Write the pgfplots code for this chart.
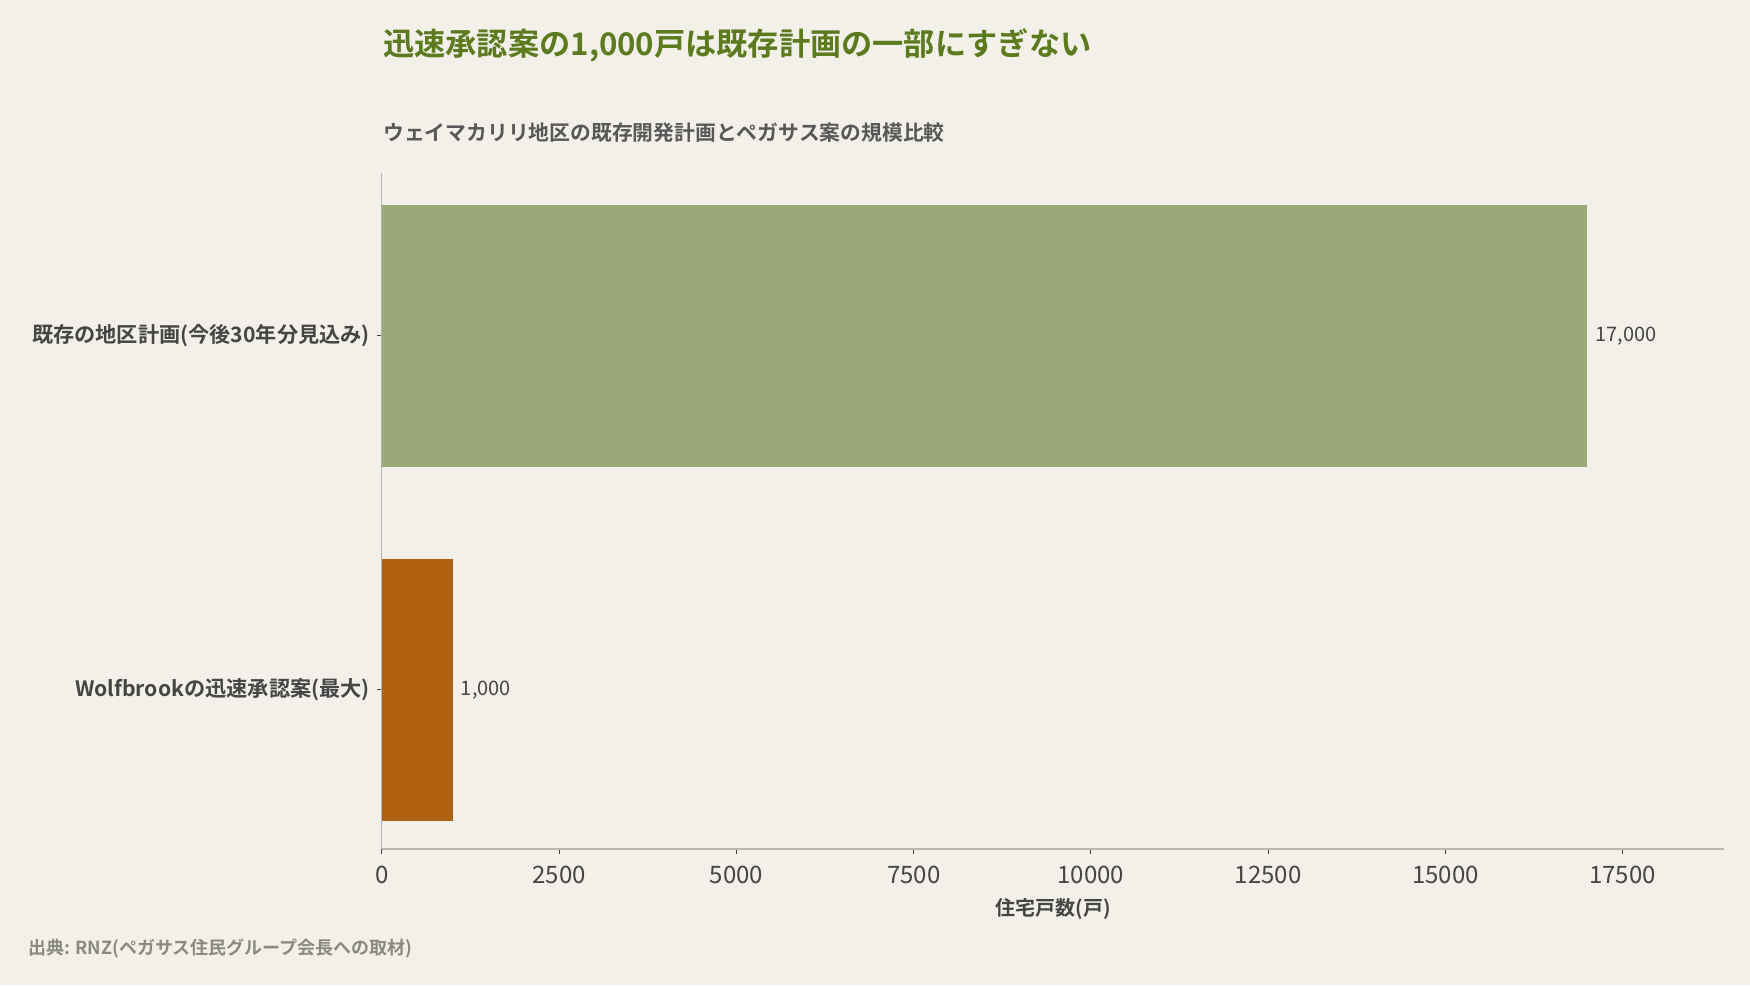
\documentclass[border=0pt]{standalone}
\usepackage{fontspec}
\setmainfont{Noto Sans CJK JP}[BoldFont={Noto Sans CJK JP Bold}]
\usepackage{pgfplots}
\pgfplotsset{compat=1.18}

\definecolor{bgc}{HTML}{F2F0E9}
\definecolor{titlec}{HTML}{5B7B1E}
\definecolor{greenbar}{HTML}{9BA877}
\definecolor{orangebar}{HTML}{B0610F}
\definecolor{textc}{HTML}{454545}
\definecolor{srcc}{HTML}{8A8A82}
\definecolor{axisc}{HTML}{B7BAA8}

\begin{document}
\begin{tikzpicture}
  \fill[bgc] (-191pt,-68pt) rectangle (684pt,424.5pt);
  \path[use as bounding box] (-191pt,-68pt) rectangle (684pt,424.5pt);

  \begin{axis}[
    at={(0,0)}, anchor=south west,
    scale only axis,
    width=671pt, height=338pt,
    xmin=0, xmax=18930,
    ymin=-0.45, ymax=1.46,
    axis lines*=left,
    axis line style={draw=none},
    scaled x ticks=false,
    xtick={0,2500,5000,7500,10000,12500,15000,17500},
    ytick={0,1},
    yticklabels={Wolfbrookの迅速承認案(最大),既存の地区計画(今後30年分見込み)},
    tick align=outside,
    major tick length=2.5pt,
    tick style={draw=textc, line width=0.5pt},
    xticklabel style={font=\fontsize{12}{14}\selectfont, text=textc, yshift=-2.5pt},
    yticklabel style={font=\bfseries\fontsize{10.6}{12}\selectfont, text=textc},
    /pgf/number format/assume math mode=true,
    /pgf/number format/1000 sep={},
    xlabel={住宅戸数(戸)},
    xlabel style={font=\bfseries\fontsize{10}{12}\selectfont, text=textc, at={(axis description cs:0.5,0)}, anchor=center, yshift=-30pt},
    xbar, bar width=0.74, bar shift=0pt,
    nodes near coords,
    nodes near coords style={font=\fontsize{10}{12}\selectfont, text=textc, anchor=west, xshift=0.5pt,
      /pgf/number format/1000 sep={,}},
    clip=false,
  ]
    \addplot[fill=orangebar, draw=none] coordinates {(1000,0)};
    \addplot[fill=greenbar, draw=none] coordinates {(17000,1)};
    \draw[axisc, line width=1pt] (axis cs:0,-0.45) -- (axis cs:18930,-0.45);
    \draw[black!30, line width=0.5pt] (axis cs:0,-0.45) -- (axis cs:0,1.46);
  \end{axis}

  \node[anchor=west, inner sep=0pt, text=titlec, font=\bfseries\fontsize{15.6}{18}\selectfont] at (0.5pt,402pt) {迅速承認案の1,000戸は既存計画の一部にすぎない};
  \node[anchor=west, inner sep=0pt, text=textc!90, font=\bfseries\fontsize{10.4}{13}\selectfont] at (0.5pt,358pt) {ウェイマカリリ地区の既存開発計画とペガサス案の規模比較};
  \node[anchor=west, inner sep=0pt, text=srcc, font=\bfseries\fontsize{9}{10}\selectfont] at (-177pt,-50pt) {出典: RNZ(ペガサス住民グループ会長への取材)};
\end{tikzpicture}
\end{document}
